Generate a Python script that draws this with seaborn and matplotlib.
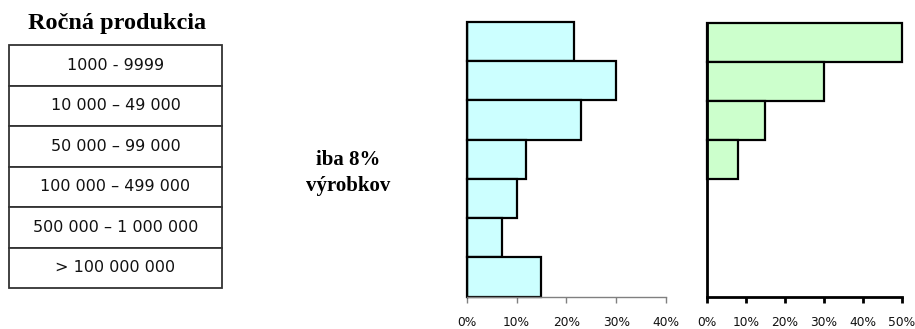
import matplotlib
matplotlib.use("Agg")
import matplotlib.pyplot as plt
import seaborn as sns
import pandas as pd
import numpy as np
from matplotlib.ticker import PercentFormatter, MultipleLocator

# ---- data ----
title = "Ročná produkcia"
categories = ["1000 - 9999", "10 000 – 49 000", "50 000 – 99 000",
              "100 000 – 499 000", "500 000 – 1 000 000", "> 100 000 000"]
slots = ["s1", "s2", "s3", "s4", "s5", "s6", "s7"]
left_values = [0.215, 0.30, 0.23, 0.12, 0.10, 0.07, 0.15]
right_values = [0.50, 0.30, 0.15, 0.08, np.nan, np.nan, np.nan]
note = "iba 8%\nvýrobkov"

sns.set_style("white")
plt.rcParams['font.family'] = ['DejaVu Sans']
plt.rcParams['text.color'] = 'black'

W, H = 915, 329
fig = plt.figure(figsize=(W / 100, H / 100), dpi=100)

def fx(px):
    return px / W

def fy(py):
    return 1 - py / H

# ---- table on the left ----
tax = fig.add_axes([fx(9), fy(288), fx(222 - 9), (288 - 45) / H])
tax.axis("off")
tbl = tax.table(cellText=[[c] for c in categories], cellLoc="center",
                bbox=[0, 0, 1, 1])
tbl.auto_set_font_size(False)
tbl.set_fontsize(11.5)
for (r, c), cell in tbl.get_celld().items():
    cell.set_edgecolor("#333333")
    cell.set_linewidth(1.3)
    cell.get_text().set_color("#111111")

fig.text(fx(117.5), fy(24), title, ha="center", va="center",
         fontsize=17.5, fontweight="bold", family="Liberation Serif",
         color="black")
fig.text(fx(348), fy(173), note, ha="center", va="center",
         fontsize=15, fontweight="bold", family="Liberation Serif",
         linespacing=1.4, color="black")

# ---- left bar chart ----
dfl = pd.DataFrame({"slot": slots, "val": left_values})
axl = fig.add_axes([fx(466.7), fy(296.5), fx(666 - 466.7), (296.5 - 22) / H])
sns.barplot(data=dfl, y="slot", x="val", order=slots, orient="h",
            color="#CCFFFF", saturation=1, edgecolor="black", linewidth=1.6,
            width=1.0, errorbar=None, ax=axl)
axl.set_xlim(0, 0.4)
axl.set_ylim(6.5, -0.5)

# ---- right bar chart ----
dfr = pd.DataFrame({"slot": slots, "val": right_values})
axr = fig.add_axes([fx(706.7), fy(296.5), fx(901.7 - 706.7), (296.5 - 23) / H])
sns.barplot(data=dfr, y="slot", x="val", order=slots, orient="h",
            color="#CCFFCC", saturation=1, edgecolor="black", linewidth=1.6,
            width=1.0, errorbar=None, ax=axr)
axr.set_xlim(0, 0.5)
axr.set_ylim(6.5, -0.5)

for ax, col, lw in [(axl, "#808080", 1.0), (axr, "black", 2.0)]:
    for p in ax.patches:
        p.set_clip_on(False)
    ax.set_xlabel("")
    ax.set_ylabel("")
    ax.set_yticks([])
    ax.xaxis.set_major_locator(MultipleLocator(0.1))
    ax.xaxis.set_major_formatter(PercentFormatter(1.0, decimals=0))
    for s in ["top", "right"]:
        ax.spines[s].set_visible(False)
    ax.spines["bottom"].set_color(col)
    ax.spines["bottom"].set_linewidth(lw)
    ax.spines["left"].set_color(col if ax is axr else "black")
    ax.spines["left"].set_linewidth(lw)
    ax.tick_params(axis="x", bottom=True, direction="out", length=4,
                   width=lw, color=col, pad=10, labelsize=8.8,
                   labelcolor="#111111")
    ax.set_facecolor("none")

fig.savefig("out.png", dpi=100)
